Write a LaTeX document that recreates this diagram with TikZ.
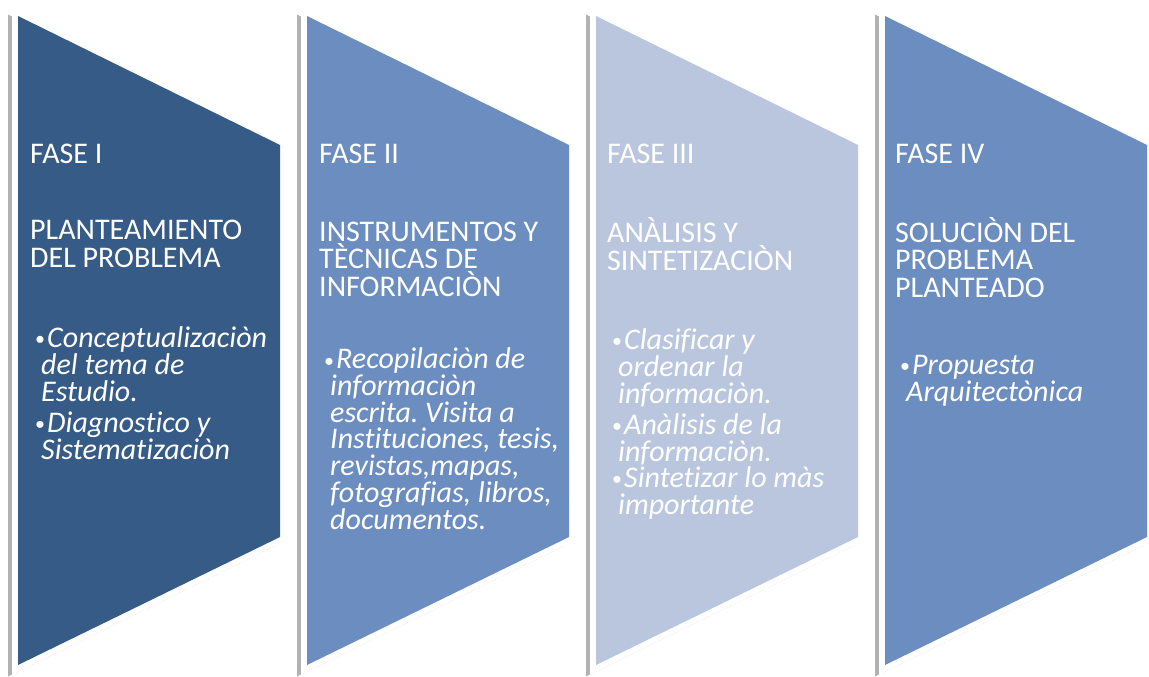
\documentclass[tikz,border=0pt]{standalone}
\usepackage{fontspec}
\setmainfont{Carlito}[Ligatures=NoCommon]
\frenchspacing
\definecolor{cA}{HTML}{365B87}
\definecolor{cB}{HTML}{6C8DBF}
\definecolor{cC}{HTML}{B9C6DE}
\newcommand\bul{\makebox[12pt][l]{\upshape\fontsize{20}{20}\selectfont\raisebox{1.5pt}{•}}}
\newcommand\ind{\hspace*{6pt}}
\begin{document}
\begin{tikzpicture}[x=1pt,y=-1pt,
  shadowpath/.style={fill=black!30, draw=black!30, line width=8pt, line join=miter},
  border/.style={draw=white, line width=12pt, line join=miter},
  phasefill/.style={fill=#1},
  fase/.style={text=white, inner sep=0pt, anchor=base west, align=left, font=\fontsize{30}{27.5}\selectfont},
  bullets/.style={text=white, inner sep=0pt, anchor=base west, align=left, font=\fontsize{30}{27}\selectfont\itshape}
]
\useasboundingbox (0,0) rectangle (1149,677);
\foreach \L/\c in {18/cA, 307/cB, 596/cC, 885/cB} {
  \path[shadowpath] ({\L-6},21) -- ({\L+256},150) -- ({\L+256},542) -- ({\L-6},670) -- cycle;
}
\foreach \L/\c in {18/cA, 307/cB, 596/cC, 885/cB} {
  \path[border] (\L,16) -- ({\L+262},145) -- ({\L+262},537) -- (\L,665) -- cycle;
  \path[phasefill=\c] (\L,16) -- ({\L+262},145) -- ({\L+262},537) -- (\L,665) -- cycle;
}
% Phase I  (anchors are at the baseline of the last line)
\node[fase] (f1) at (30,163) {FASE I};
\node[fase] (h1) at (30,267) {PLANTEAMIENTO\\DEL PROBLEMA};
\node[bullets] (b1a) at (35,401) {\bul Conceptualizaciòn\\\ind del tema de\\\ind Estudio.};
\node[bullets] (b1b) at (35,459) {\bul Diagnostico y\\\ind Sistematizaciòn};
% Phase II
\node[fase] (f2) at (319,163) {FASE II};
\node[fase] (h2) at (319,296) {INSTRUMENTOS Y\\TÈCNICAS DE\\INFORMACIÒN};
\node[bullets, font=\fontsize{30}{26.7}\selectfont\itshape] (b2a) at (324,529) {\bul Recopilaciòn de\\\ind informaciòn\\\ind escrita. Visita a\\\ind Instituciones, tesis,\\\ind revistas,mapas,\\\ind fotografias, libros,\\\ind documentos.};
% Phase III
\node[fase] (f3) at (607,163) {FASE III};
\node[fase] (h3) at (607,270) {ANÀLISIS Y\\SINTETIZACIÒN};
\node[bullets] (b3a) at (612,403) {\bul Clasificar y\\\ind ordenar la\\\ind informaciòn.};
\node[bullets] (b3b) at (612,461) {\bul Anàlisis de la\\\ind informaciòn.};
\node[bullets] (b3c) at (612,514) {\bul Sintetizar lo màs\\\ind importante};
% Phase IV
\node[fase] (f4) at (895,163) {FASE IV};
\node[fase] (h4) at (895,297) {SOLUCIÒN DEL\\PROBLEMA\\PLANTEADO};
\node[bullets] (b4a) at (900,401) {\bul Propuesta\\\ind Arquitectònica};
\end{tikzpicture}
\end{document}
